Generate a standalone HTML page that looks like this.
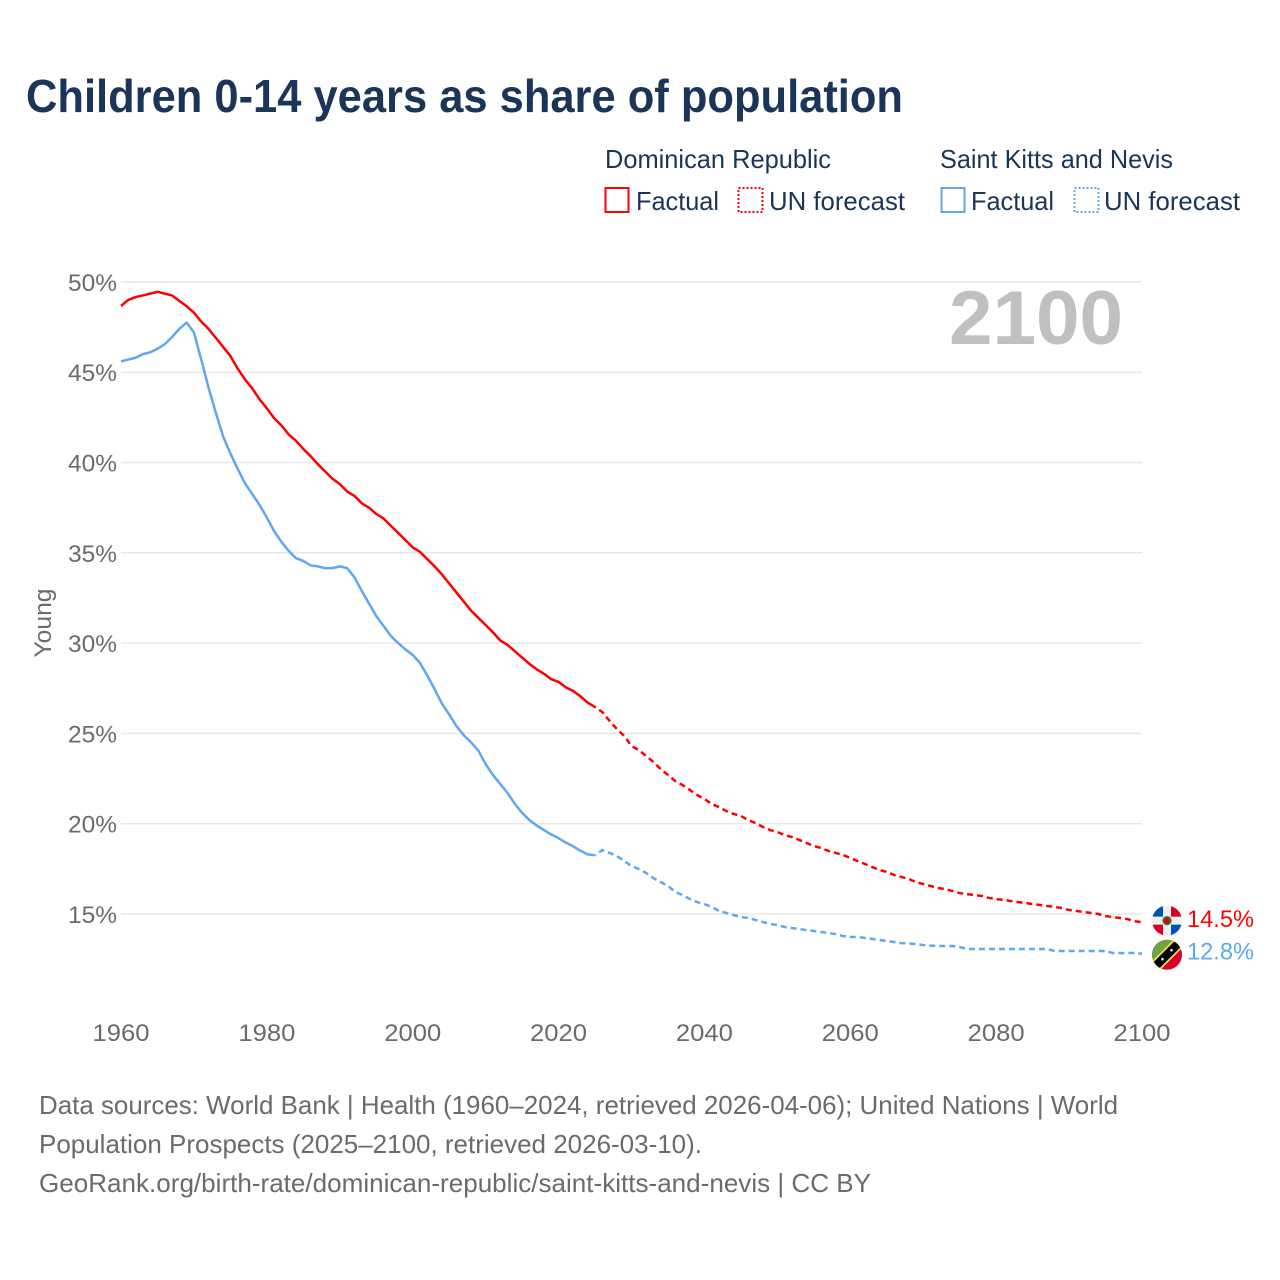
<!DOCTYPE html>
<html lang="en">
<head>
<meta charset="utf-8">
<title>Children 0-14 years as share of population</title>
<style>
html,body{margin:0;padding:0;background:#fff;}
svg{display:block;}
text{font-family:"Liberation Sans",Arial,sans-serif;}
</style>
</head>
<body>
<svg id="chart" xmlns="http://www.w3.org/2000/svg" width="1280" height="1280" viewBox="0 0 1280 1280">
  <rect width="1280" height="1280" fill="#fff"/>
  <text x="26" y="112" font-size="46" font-weight="700" fill="#1a3557" textLength="877" lengthAdjust="spacingAndGlyphs">Children 0-14 years as share of population</text>

  <g>
    <text x="605" y="168" font-size="26" fill="#1a3557" textLength="226" lengthAdjust="spacingAndGlyphs">Dominican Republic</text>
    <text x="940" y="168" font-size="26" fill="#1a3557" textLength="233" lengthAdjust="spacingAndGlyphs">Saint Kitts and Nevis</text>

    <rect x="605.5" y="188" width="23" height="24" fill="none" stroke="#ff0000" stroke-width="2"/>
    <text x="636" y="210" font-size="26" fill="#1a3557" textLength="83" lengthAdjust="spacingAndGlyphs">Factual</text>
    <rect x="738.5" y="188" width="24" height="24" fill="none" stroke="#ff0000" stroke-width="2" stroke-dasharray="2 2"/>
    <text x="769" y="210" font-size="26" fill="#1a3557" textLength="136" lengthAdjust="spacingAndGlyphs">UN forecast</text>

    <rect x="941.5" y="188" width="23" height="24" fill="none" stroke="#5fa8ef" stroke-width="2"/>
    <text x="971" y="210" font-size="26" fill="#1a3557" textLength="83" lengthAdjust="spacingAndGlyphs">Factual</text>
    <rect x="1074.5" y="188" width="24" height="24" fill="none" stroke="#5fa8ef" stroke-width="2" stroke-dasharray="2 2"/>
    <text x="1104" y="210" font-size="26" fill="#1a3557" textLength="136" lengthAdjust="spacingAndGlyphs">UN forecast</text>
  </g>

  <g id="grid"></g>
  <g id="yticks"></g>
  <g id="xticks"></g>

  <text transform="translate(51,623) rotate(-90)" text-anchor="middle" font-size="24" fill="#6b6b6b" textLength="69" lengthAdjust="spacingAndGlyphs">Young</text>
  <text x="949" y="344" font-size="76" font-weight="700" fill="#c0c0c0" textLength="174" lengthAdjust="spacingAndGlyphs">2100</text>

  <g id="series"></g>

  <defs>
    <clipPath id="flag-clip"><circle cx="0" cy="0" r="15"/></clipPath>
  </defs>

  <g id="flag-do" clip-path="url(#flag-clip)">
    <rect x="-15" y="-15" width="30" height="30" fill="#f0f0f0"/>
    <rect x="-15" y="-15" width="11" height="11" fill="#0052b4"/>
    <rect x="4" y="-15" width="11" height="11" fill="#d80027"/>
    <rect x="-15" y="4" width="11" height="11" fill="#d80027"/>
    <rect x="4" y="4" width="11" height="11" fill="#0052b4"/>
    <circle r="4.6" fill="#496e2d"/>
    <circle r="2.8" fill="#d80027"/>
  </g>
  <g id="flag-kn" clip-path="url(#flag-clip)">
    <rect x="-15" y="-15" width="30" height="30" fill="#d80027"/>
    <path d="M-15,-15H15L-15,15Z" fill="#6da544"/>
    <path d="M6.5,-15H23.5L-6.5,15H-23.5Z" fill="#ffda44"/>
    <path d="M9,-15H21L-9,15H-21Z" fill="#000"/>
    <circle cx="-4.5" cy="4.5" r="1.3" fill="#f0f0f0"/>
    <circle cx="4.5" cy="-4.5" r="1.3" fill="#f0f0f0"/>
  </g>

  <text id="label-do" x="1187" font-size="24" fill="#ff0000" textLength="67" lengthAdjust="spacingAndGlyphs"></text>
  <text id="label-kn" x="1187" font-size="24" fill="#5fa8ef" textLength="67" lengthAdjust="spacingAndGlyphs"></text>

  <g>
    <text x="39" y="1114" font-size="26" fill="#6b6b6b" textLength="1079" lengthAdjust="spacingAndGlyphs">Data sources: World Bank | Health (1960–2024, retrieved 2026-04-06); United Nations | World</text>
    <text x="39" y="1153" font-size="26" fill="#6b6b6b" textLength="663" lengthAdjust="spacingAndGlyphs">Population Prospects (2025–2100, retrieved 2026-03-10).</text>
    <text x="39" y="1192" font-size="26" fill="#6b6b6b" textLength="832" lengthAdjust="spacingAndGlyphs">GeoRank.org/birth-rate/dominican-republic/saint-kitts-and-nevis | CC BY</text>
  </g>
</svg>

<script>
var yTickValues = [15, 20, 25, 30, 35, 40, 45, 50];
var yTickLabels = ['15%', '20%', '25%', '30%', '35%', '40%', '45%', '50%'];
var xTickValues = [1960, 1980, 2000, 2020, 2040, 2060, 2080, 2100];
var xTickLabels = ['1960', '1980', '2000', '2020', '2040', '2060', '2080', '2100'];

var factualStartYear = 1960;
var forecastStartYear = 2025;

var domFactual = [48.67,49.0,49.16,49.25,49.35,49.45,49.35,49.25,48.95,48.65,48.3,47.8,47.4,46.9,46.4,45.9,45.2,44.6,44.1,43.5,43.0,42.45,42.05,41.55,41.2,40.75,40.35,39.9,39.5,39.1,38.8,38.4,38.15,37.75,37.5,37.15,36.9,36.5,36.1,35.7,35.3,35.05,34.65,34.25,33.8,33.3,32.8,32.3,31.8,31.4,31.0,30.6,30.15,29.9,29.55,29.2,28.85,28.55,28.3,28.0,27.85,27.55,27.35,27.05,26.7,26.46];
var domForecast = [26.46,26.18,25.69,25.24,24.86,24.3,24.08,23.75,23.42,23.03,22.7,22.36,22.14,21.87,21.59,21.37,21.09,20.92,20.7,20.54,20.43,20.2,20.04,19.82,19.65,19.54,19.37,19.26,19.1,18.93,18.77,18.65,18.49,18.38,18.27,18.1,17.93,17.77,17.6,17.44,17.33,17.16,17.05,16.94,16.77,16.66,16.55,16.44,16.38,16.27,16.16,16.1,16.05,16.0,15.89,15.83,15.78,15.72,15.66,15.61,15.55,15.5,15.44,15.39,15.33,15.22,15.17,15.11,15.06,15.0,14.89,14.83,14.78,14.72,14.6,14.55];
var kitFactual = [45.6,45.7,45.8,46.0,46.1,46.3,46.55,46.95,47.4,47.75,47.2,45.7,44.15,42.75,41.45,40.5,39.65,38.85,38.25,37.65,36.95,36.2,35.6,35.1,34.7,34.55,34.3,34.25,34.15,34.15,34.25,34.15,33.65,32.9,32.2,31.5,30.95,30.4,30.0,29.65,29.35,28.9,28.2,27.45,26.65,26.05,25.4,24.9,24.5,24.05,23.3,22.7,22.2,21.7,21.1,20.6,20.2,19.9,19.65,19.4,19.2,18.95,18.75,18.5,18.3,18.25];
var kitForecast = [18.25,18.54,18.38,18.21,17.93,17.66,17.49,17.27,16.99,16.77,16.55,16.22,16.05,15.83,15.66,15.55,15.39,15.17,15.06,14.94,14.83,14.78,14.67,14.56,14.45,14.39,14.28,14.22,14.17,14.11,14.06,14.0,13.95,13.89,13.78,13.73,13.73,13.67,13.62,13.56,13.5,13.45,13.39,13.37,13.34,13.28,13.25,13.23,13.23,13.23,13.17,13.06,13.06,13.06,13.06,13.06,13.06,13.06,13.06,13.06,13.06,13.06,13.06,12.95,12.95,12.95,12.95,12.95,12.95,12.95,12.95,12.84,12.84,12.84,12.84,12.8];

var domEndLabel = '14.5%';
var kitEndLabel = '12.8%';

var SVG_NS = 'http://www.w3.org/2000/svg';
function xScale(year) { return 121 + (year - 1960) * (1021 / 140); }
function yScale(value) { return 914 - (value - 15) * 18.06; }

function linePath(values, startYear) {
  var d = '';
  for (var i = 0; i < values.length; i++) {
    d += (i ? 'L' : 'M') + xScale(startYear + i).toFixed(2) + ',' + yScale(values[i]).toFixed(2);
  }
  return d;
}

var grid = document.getElementById('grid');
var yTicks = document.getElementById('yticks');
var xTicks = document.getElementById('xticks');
var series = document.getElementById('series');

yTickValues.forEach(function (v, i) {
  var line = document.createElementNS(SVG_NS, 'line');
  line.setAttribute('x1', 121);
  line.setAttribute('x2', 1142);
  line.setAttribute('y1', yScale(v));
  line.setAttribute('y2', yScale(v));
  line.setAttribute('stroke', '#e8e8e8');
  line.setAttribute('stroke-width', '1.5');
  
  
  grid.appendChild(line);

  var label = document.createElementNS(SVG_NS, 'text');
  label.setAttribute('x', 68);
  label.setAttribute('y', yScale(v) + 9);
  label.setAttribute('font-size', '24');
  label.setAttribute('fill', '#6b6b6b');
  label.setAttribute('textLength', '49');
  label.setAttribute('lengthAdjust', 'spacingAndGlyphs');
  
  
  label.textContent = yTickLabels[i];
  yTicks.appendChild(label);
});

xTickValues.forEach(function (v, i) {
  var label = document.createElementNS(SVG_NS, 'text');
  label.setAttribute('x', xScale(v) - 28.5);
  label.setAttribute('y', 1041);
  label.setAttribute('font-size', '24');
  label.setAttribute('fill', '#6b6b6b');
  label.setAttribute('textLength', '57');
  label.setAttribute('lengthAdjust', 'spacingAndGlyphs');
  
  
  label.textContent = xTickLabels[i];
  xTicks.appendChild(label);
});

function addLine(values, startYear, color, dashed, name) {
  var p = document.createElementNS(SVG_NS, 'path');
  p.setAttribute('d', linePath(values, startYear));
  p.setAttribute('fill', 'none');
  p.setAttribute('stroke', color);
  p.setAttribute('stroke-width', '2.5');
  p.setAttribute('stroke-linejoin', 'round');
  if (dashed) {
    p.setAttribute('stroke-dasharray', '6 4');
    p.setAttribute('stroke-dashoffset', '-5');
  }
  
  
  series.appendChild(p);
}

addLine(domFactual, factualStartYear, '#ff0000', false, 'line-dominican-factual');
addLine(domForecast, forecastStartYear, '#ff0000', true, 'line-dominican-forecast');
addLine(kitFactual, factualStartYear, '#5fa8ef', false, 'line-kitts-factual');
addLine(kitForecast, forecastStartYear, '#5fa8ef', true, 'line-kitts-forecast');

var domLastY = yScale(domForecast[domForecast.length - 1]);
var kitLastY = yScale(kitForecast[kitForecast.length - 1]);
document.getElementById('flag-do').setAttribute('transform', 'translate(1167,' + (domLastY - 1.5) + ')');
document.getElementById('flag-kn').setAttribute('transform', 'translate(1167,' + (kitLastY + 1) + ')');
var labelDo = document.getElementById('label-do');
labelDo.setAttribute('y', domLastY + 5);
labelDo.textContent = domEndLabel;
var labelKn = document.getElementById('label-kn');
labelKn.setAttribute('y', kitLastY + 6);
labelKn.textContent = kitEndLabel;
</script>
</body>
</html>
